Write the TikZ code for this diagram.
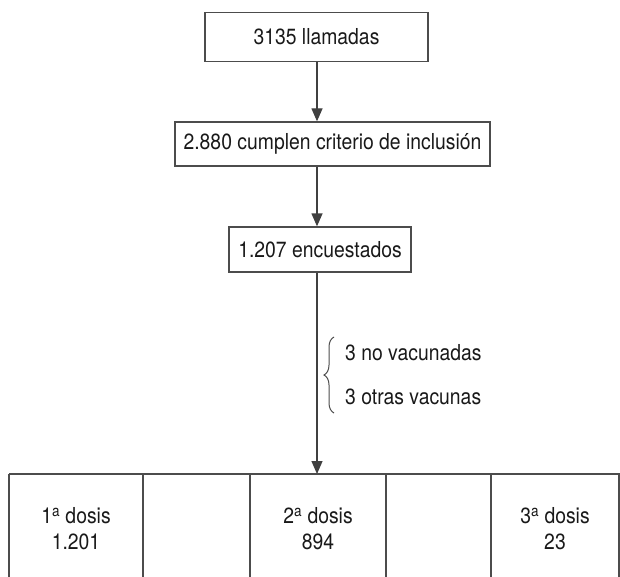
\documentclass[tikz,border=0pt]{standalone}
\usepackage{fontspec}
\setmainfont[FakeStretch=0.88]{TeX Gyre Heros}
\usepackage{tikz}
\usetikzlibrary{arrows.meta,decorations.pathreplacing}

\begin{document}
\begin{tikzpicture}[x=1pt, y=-1pt, font=\fontsize{22}{26}\selectfont,
		caja/.style={draw=black!70, line width=1.3pt, inner sep=0pt, text=black!90},
		flecha/.style={draw=black!75, line width=1.3pt, -{Triangle[width=11pt,length=13pt]}},
		linea/.style={draw=black!70, line width=1.3pt},
		texto/.style={inner sep=0pt, text=black!90}]
	\useasboundingbox (0,0) rectangle (620,577);
	
	\node[caja, minimum width=223pt, minimum height=49pt] (llamadas) at (316.5,37) {3135 llamadas};
	\node[caja, minimum width=315pt, minimum height=44pt] (criterio) at (332.5,144) {2.880 cumplen criterio de inclusión};
	\node[caja, minimum width=182pt, minimum height=45pt] (encuestados) at (320,249.5) {1.207 encuestados};
	\coordinate (tabla) at (317,474);
	
	\draw[flecha] (llamadas.south -| tabla) -- (criterio.north -| tabla);
	\draw[flecha] (criterio.south -| tabla) -- (encuestados.north -| tabla);
	\draw[flecha] (encuestados.south -| tabla) -- (tabla);
	
	% exclusiones
	\draw[linea, line width=1pt, decorate, decoration={brace, amplitude=10pt}] (334,413) -- (334,337);
	\node[texto, anchor=west] (novacunadas) at (345,353) {3 no vacunadas};
	\node[texto, anchor=west] (otras) at (345,397) {3 otras vacunas};
	
	% tabla de dosis
	\draw[linea] (9,474) -- (620,474);
	\foreach \pos in {9, 143, 250, 386, 491, 619} \draw[linea] (\pos,474) -- (\pos,577);
	
	\node[texto, align=center] (dosis1) at (76,529) {1\textsuperscript{a} dosis\\1.201};
	\node[texto, align=center] (dosis2) at (318,529) {2\textsuperscript{a} dosis\\894};
	\node[texto, align=center] (dosis3) at (555,529) {3\textsuperscript{a} dosis\\23};
\end{tikzpicture}
\end{document}
